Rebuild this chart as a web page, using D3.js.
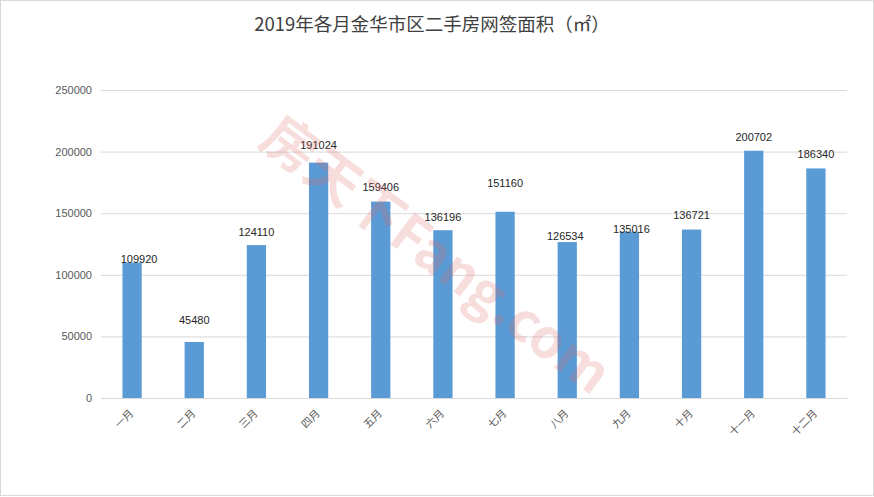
<!DOCTYPE html>
<html><head><meta charset="utf-8">
<script src="https://cdn.jsdelivr.net/npm/d3@7"></script>
<style>body{margin:0;background:#fff}svg{display:block}</style>
</head><body>
<svg id="c" width="874" height="497"></svg>
<script>
const title = "2019年各月金华市区二手房网签面积（㎡）";
const months = ["一月","二月","三月","四月","五月","六月","七月","八月","九月","十月","十一月","十二月"];
const areas = [109920,45480,124110,191024,159406,136196,151160,126534,135016,136721,200702,186340];
const yTicks = [0,50000,100000,150000,200000,250000];
// manual nudges of data labels as placed in the original (px, [dx, dy])
const labelNudge = [[7,11],[0,-8],[0,1],[0,-4],[0,0],[0,1],[0,-15],[-2,8],[2,11],[0,0],[0,0],[0,0]];

const svg = d3.select("#c");
const W = 874, H = 497;
const m = {l:101, r:27, t:90, b:99};
svg.append("rect").attr("x",0.5).attr("y",0.5).attr("width",W-1).attr("height",H-2)
  .attr("fill","#fff").attr("stroke","#d9d9d9");

const x = d3.scaleBand().domain(months).range([m.l, W-m.r]).paddingInner(0.69).paddingOuter(0.345);
const y = d3.scaleLinear().domain([0,250000]).range([H-m.b, m.t]);

svg.append("text").attr("x",432).attr("y",31).attr("text-anchor","middle")
  .attr("font-family","Noto Sans CJK SC, sans-serif").attr("font-size",18.5).attr("fill","#404040").text(title);

// grid
const ya = d3.axisLeft(y).tickValues(yTicks).tickSize(-(W-m.l-m.r)).tickFormat(d3.format("d")).tickPadding(9);
const g = svg.append("g").attr("transform",`translate(${m.l},0)`).call(ya);
g.select(".domain").remove();
g.selectAll(".tick line").attr("stroke","#d9d9d9");
g.selectAll(".tick text").attr("fill","#595959").attr("font-size",11).attr("font-family","Liberation Sans, Arial, sans-serif");

// bars
svg.selectAll(".bar").data(areas).join("rect")
  .attr("x",(d,i)=>x(months[i])).attr("width",x.bandwidth())
  .attr("y",d=>y(d)).attr("height",d=>y(0)-y(d)).attr("fill","#5b9bd5");

// x axis
const xa = d3.axisBottom(x).tickSize(0);
const gx = svg.append("g").attr("transform",`translate(0,${y(0)})`).call(xa);
gx.select(".domain").attr("stroke","#d9d9d9");
gx.selectAll(".tick text").attr("fill","#595959").attr("font-size",10.5)
  .attr("font-family","Noto Sans CJK SC, sans-serif")
  .attr("y",0).attr("dy",0)
  .attr("text-anchor","end").attr("transform","translate(2,16) rotate(-45)");

// labels
svg.selectAll(".lbl").data(areas).join("text")
  .attr("x",(d,i)=>x(months[i])+x.bandwidth()/2+labelNudge[i][0])
  .attr("y",d=>y(d)-14).attr("dy","0.35em")
  .attr("transform",(d,i)=>`translate(0,${labelNudge[i][1]})`)
  .attr("text-anchor","middle").attr("font-size",11).attr("fill","#262626")
  .attr("font-family","Liberation Sans, Arial, sans-serif").text(d=>d);

// watermark
svg.append("text").attr("transform","translate(266,132) rotate(37)")
  .attr("font-family","Noto Sans CJK SC, sans-serif").attr("font-size",54).attr("font-weight","bold")
  .attr("fill","#e06666").attr("fill-opacity",0.22).attr("dominant-baseline","middle")
  .text("房天下Fang.com");
</script>
</body></html>
